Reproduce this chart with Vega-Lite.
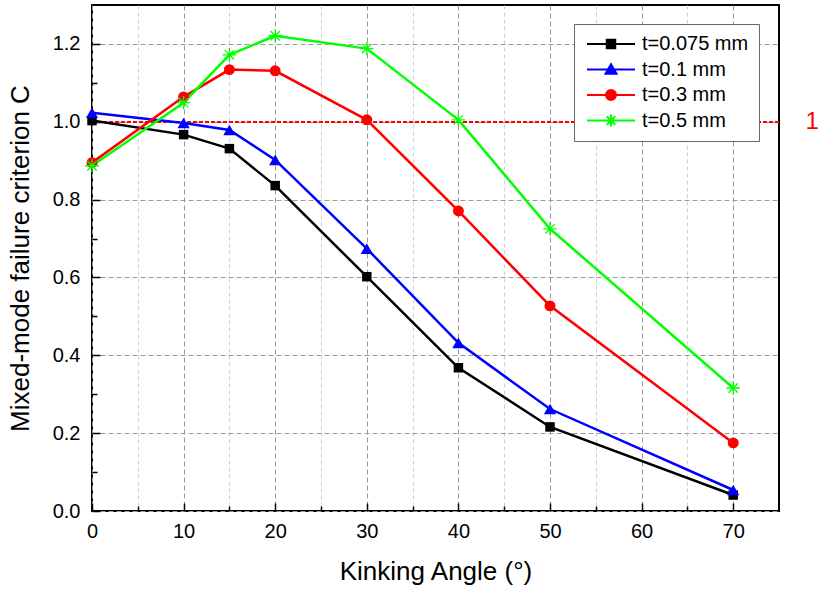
{
  "$schema": "https://vega.github.io/schema/vega-lite/v6.json",
  "width": 687,
  "height": 506,
  "autosize": {"type": "none"},
  "padding": {"left": 92, "top": 5, "right": 48, "bottom": 83},
  "background": "white",
  "config": {
    "font": "Liberation Sans",
    "view": {"stroke": "black", "strokeWidth": 2},
    "axis": {
      "labelFont": "Liberation Sans",
      "labelFontSize": 20,
      "labelColor": "black",
      "labelFlush": false,
      "titleFont": "Liberation Sans",
      "titleFontSize": 26,
      "titleFontWeight": "normal",
      "titleColor": "black",
      "tickColor": "black",
      "domain": false
    },
    "legend": {
      "orient": "none", "legendX": 482, "legendY": 19,
      "padding": 10, "strokeColor": "#666666", "fillColor": "white",
      "labelFontSize": 20, "labelFont": "Liberation Sans", "labelColor": "black",
      "symbolSize": 100, "symbolOffset": 17, "labelOffset": 21, "rowPadding": 5.5,
      "symbolStrokeWidth": 2
    }
  },
  "data": {
    "values": [
      {"angle": 0, "C": 1.003, "series": "t=0.075 mm"},
      {"angle": 10, "C": 0.967, "series": "t=0.075 mm"},
      {"angle": 15, "C": 0.931, "series": "t=0.075 mm"},
      {"angle": 20, "C": 0.836, "series": "t=0.075 mm"},
      {"angle": 30, "C": 0.602, "series": "t=0.075 mm"},
      {"angle": 40, "C": 0.368, "series": "t=0.075 mm"},
      {"angle": 50, "C": 0.216, "series": "t=0.075 mm"},
      {"angle": 70, "C": 0.041, "series": "t=0.075 mm"},
      {"angle": 0, "C": 1.023, "series": "t=0.1 mm"},
      {"angle": 10, "C": 0.997, "series": "t=0.1 mm"},
      {"angle": 15, "C": 0.979, "series": "t=0.1 mm"},
      {"angle": 20, "C": 0.902, "series": "t=0.1 mm"},
      {"angle": 30, "C": 0.674, "series": "t=0.1 mm"},
      {"angle": 40, "C": 0.432, "series": "t=0.1 mm"},
      {"angle": 50, "C": 0.262, "series": "t=0.1 mm"},
      {"angle": 70, "C": 0.054, "series": "t=0.1 mm"},
      {"angle": 0, "C": 0.895, "series": "t=0.3 mm"},
      {"angle": 10, "C": 1.064, "series": "t=0.3 mm"},
      {"angle": 15, "C": 1.134, "series": "t=0.3 mm"},
      {"angle": 20, "C": 1.131, "series": "t=0.3 mm"},
      {"angle": 30, "C": 1.005, "series": "t=0.3 mm"},
      {"angle": 40, "C": 0.771, "series": "t=0.3 mm"},
      {"angle": 50, "C": 0.527, "series": "t=0.3 mm"},
      {"angle": 70, "C": 0.175, "series": "t=0.3 mm"},
      {"angle": 0, "C": 0.887, "series": "t=0.5 mm"},
      {"angle": 10, "C": 1.049, "series": "t=0.5 mm"},
      {"angle": 15, "C": 1.172, "series": "t=0.5 mm"},
      {"angle": 20, "C": 1.221, "series": "t=0.5 mm"},
      {"angle": 30, "C": 1.188, "series": "t=0.5 mm"},
      {"angle": 40, "C": 1.005, "series": "t=0.5 mm"},
      {"angle": 50, "C": 0.725, "series": "t=0.5 mm"},
      {"angle": 70, "C": 0.316, "series": "t=0.5 mm"}
    ]
  },
  "resolve": {"axis": {"x": "independent", "y": "independent"}},
  "layer": [
    {
      "mark": {"type": "rule", "color": "#ff0000", "strokeWidth": 1, "strokeDash": [4, 2]},
      "encoding": {
        "y": {
          "datum": 1,
          "type": "quantitative",
          "scale": {"domain": [0, 1.3], "nice": false, "zero": false},
          "axis": {"orient": "right", "values": [1], "labelColor": "#ff0000", "labelFontSize": 24, "ticks": false, "grid": false, "domain": false, "title": null, "labelPadding": 26}
        }
      }
    },
    {
      "transform": [{"filter": "datum.angle < 0"}],
      "mark": {"type": "point", "filled": true, "opacity": 1, "strokeWidth": 2},
      "encoding": {
        "x": {
          "field": "angle", "type": "quantitative",
          "scale": {"domain": [0, 75], "nice": false, "zero": false},
          "axis": {"orient": "bottom", "values": [5, 15, 25, 35, 45, 55, 65], "grid": true, "gridColor": "#d0d0d0", "gridDash": [4, 3], "gridWidth": 1, "labels": false, "tickSize": -5, "tickWidth": 1.5, "title": null}
        },
        "y": {
          "field": "C", "type": "quantitative",
          "scale": {"domain": [0, 1.3], "nice": false, "zero": false},
          "axis": {"orient": "left", "values": [0.1, 0.3, 0.5, 0.7, 0.9, 1.1], "grid": false, "labels": false, "tickSize": -5, "tickWidth": 1.5, "title": null}
        },
        "fill": {
          "field": "series", "type": "nominal", "legend": {"title": null},
          "scale": {"domain": ["t=0.075 mm", "t=0.1 mm", "t=0.3 mm", "t=0.5 mm"], "range": ["#000000", "#0000ff", "#ff0000", "transparent"]}
        },
        "stroke": {
          "field": "series", "type": "nominal", "legend": {"title": null},
          "scale": {"domain": ["t=0.075 mm", "t=0.1 mm", "t=0.3 mm", "t=0.5 mm"], "range": ["#000000", "#0000ff", "#ff0000", "#00ff00"]}
        },
        "shape": {
          "field": "series", "type": "nominal", "legend": {"title": null},
          "scale": {"domain": ["t=0.075 mm", "t=0.1 mm", "t=0.3 mm", "t=0.5 mm"], "range": ["M-4.8,0H4.8M-0.85,-0.85H0.85V0.85H-0.85Z", "M-4.8,0H4.8M-1.1,0.85L0,-1.05L1.1,0.85Z", "M-4.8,0H4.8M-1,0A1,1 0 1,0 1,0A1,1 0 1,0 -1,0Z", "M-4.8,0H4.8M0,-1.2V1.2M-0.85,-0.85L0.85,0.85M-0.85,0.85L0.85,-0.85"]}
        }
      }
    },
    {
      "mark": {"type": "line", "strokeWidth": 2.5},
      "encoding": {
        "x": {
          "field": "angle", "type": "quantitative",
          "scale": {"domain": [0, 75], "nice": false, "zero": false},
          "axis": {"orient": "bottom", "values": [0, 10, 20, 30, 40, 50, 60, 70], "grid": true, "gridColor": "#999999", "gridDash": [5, 3], "gridWidth": 1, "tickSize": -8, "tickWidth": 1.5, "labelPadding": 18, "title": "Kinking Angle (°)", "titlePadding": 17}
        },
        "y": {
          "field": "C", "type": "quantitative",
          "scale": {"domain": [0, 1.3], "nice": false, "zero": false},
          "axis": {"orient": "left", "values": [0, 0.2, 0.4, 0.6, 0.8, 1.0, 1.2], "format": ".1f", "grid": true, "gridColor": "#999999", "gridDash": [5, 3], "gridWidth": 1, "tickSize": -8, "tickWidth": 1.5, "labelPadding": 20, "title": "Mixed-mode failure criterion C", "titlePadding": 19}
        },
        "color": {
          "field": "series", "type": "nominal", "legend": null,
          "scale": {"domain": ["t=0.075 mm", "t=0.1 mm", "t=0.3 mm", "t=0.5 mm"], "range": ["#000000", "#0000ff", "#ff0000", "#00ff00"]}
        }
      }
    },
    {
      "transform": [{"filter": "datum.series === 't=0.075 mm'"}],
      "mark": {"type": "point", "shape": "square", "filled": true, "color": "#000000", "opacity": 1, "size": 90},
      "encoding": {
        "x": {"field": "angle", "type": "quantitative", "axis": null},
        "y": {"field": "C", "type": "quantitative", "axis": null}
      }
    },
    {
      "transform": [{"filter": "datum.series === 't=0.1 mm'"}],
      "mark": {"type": "point", "shape": "triangle-up", "filled": true, "color": "#0000ff", "opacity": 1, "size": 150},
      "encoding": {
        "x": {"field": "angle", "type": "quantitative", "axis": null},
        "y": {"field": "C", "type": "quantitative", "axis": null}
      }
    },
    {
      "transform": [{"filter": "datum.series === 't=0.3 mm'"}],
      "mark": {"type": "point", "shape": "circle", "filled": true, "color": "#ff0000", "opacity": 1, "size": 120},
      "encoding": {
        "x": {"field": "angle", "type": "quantitative", "axis": null},
        "y": {"field": "C", "type": "quantitative", "axis": null}
      }
    },
    {
      "transform": [{"filter": "datum.series === 't=0.5 mm'"}],
      "mark": {"type": "point", "shape": "M-1,0H1M0,-1V1M-0.7,-0.7L0.7,0.7M-0.7,0.7L0.7,-0.7", "filled": false, "color": "#00ff00", "opacity": 1, "size": 180, "strokeWidth": 1.3},
      "encoding": {
        "x": {"field": "angle", "type": "quantitative", "axis": null},
        "y": {"field": "C", "type": "quantitative", "axis": null}
      }
    }
  ]
}
